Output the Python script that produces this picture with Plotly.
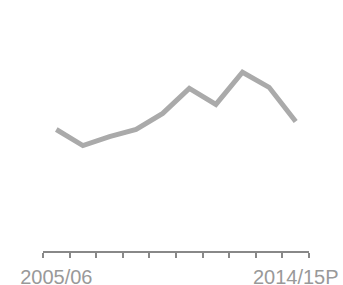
import plotly.graph_objects as go

years = ["2005/06", "2006/07", "2007/08", "2008/09", "2009/10",
         "2010/11", "2011/12", "2012/13", "2013/14", "2014/15P"]
values = [6.05, 5.25, 5.7, 6.05, 6.85, 8.1, 7.3, 8.9, 8.15, 6.45]
tick_text = ["2005/06", "", "", "", "", "", "", "", "", "2014/15P"]

fig = go.Figure(go.Scatter(
    x=years, y=values, mode="lines",
    line=dict(color="#aaaaaa", width=5),
    hoverinfo="skip",
))

fig.update_layout(
    width=343, height=285,
    margin=dict(l=43, r=34, t=10, b=34, autoexpand=False),
    paper_bgcolor="white", plot_bgcolor="white",
    showlegend=False,
    font=dict(family="Liberation Sans, Arial, sans-serif", size=20, color="#999999"),
    xaxis=dict(
        type="category", tickmode="array", tickvals=years, ticktext=tick_text,
        tickson="boundaries", ticks="outside", ticklen=5, tickwidth=1.5,
        tickcolor="#888888", showline=True, linecolor="#888888", linewidth=1.5,
        showgrid=False, zeroline=False, range=[-0.5, 9.5],
        tickangle=0, automargin=False, ticklabelstandoff=7,
        tickfont=dict(size=20, color="#999999"),
    ),
    yaxis=dict(range=[0, 12], visible=False, showgrid=False, zeroline=False),
)

fig.write_html(
    "out.html",
    config={"displayModeBar": False},
    post_script="document.body.style.margin='0';document.body.style.overflow='hidden';",
)
